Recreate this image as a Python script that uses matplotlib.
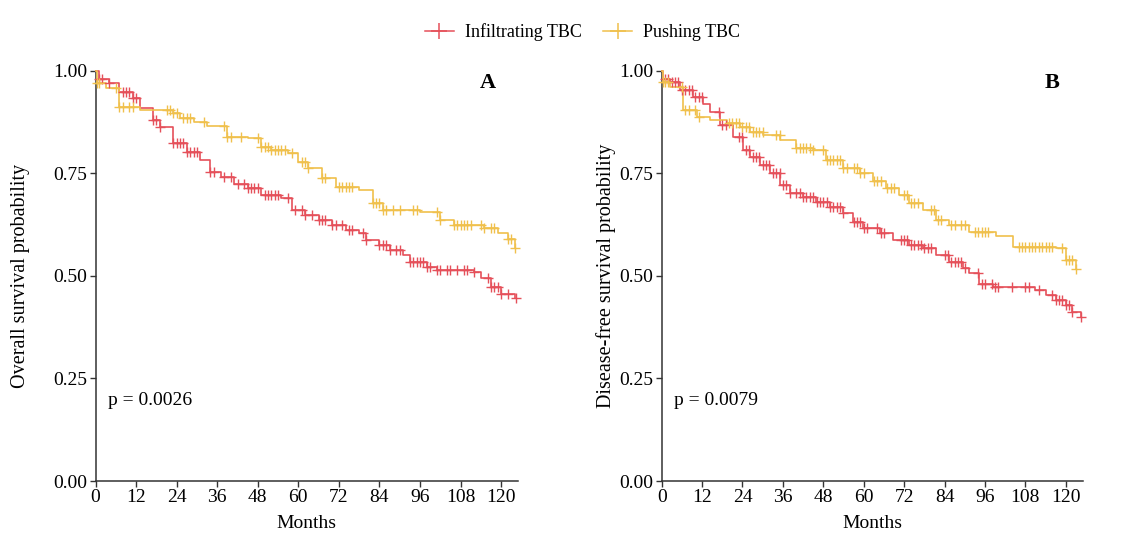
import numpy as np
import matplotlib
matplotlib.use('Agg')
import matplotlib.pyplot as plt
from matplotlib.lines import Line2D

plt.rcParams['font.family'] = ['Liberation Serif', 'DejaVu Serif']

red = '#E5505A'
yellow = '#F0C04C'

# panel A - overall survival, step knots (months, survival)
a_inf_t = [0, 1, 4, 7, 11, 13, 17, 19, 23, 27, 31, 34, 37, 41, 45, 49, 55, 58, 62, 66, 70, 74, 78, 80, 84, 87, 91, 93, 98, 101, 112, 114, 117, 120, 124]
a_inf_s = [1.0, 0.981, 0.969, 0.949, 0.933, 0.908, 0.88, 0.864, 0.823, 0.803, 0.782, 0.754, 0.742, 0.725, 0.713, 0.697, 0.689, 0.66, 0.648, 0.636, 0.624, 0.612, 0.604, 0.587, 0.575, 0.563, 0.551, 0.535, 0.522, 0.514, 0.51, 0.494, 0.474, 0.457, 0.445]
a_push_t = [0, 0.5, 3, 7, 13, 23, 25, 29, 33, 39, 45, 49, 52, 57, 60, 63, 67, 71, 78, 82, 85, 96, 102, 106, 115, 119, 122, 124]
a_push_s = [1.0, 0.969, 0.957, 0.912, 0.904, 0.896, 0.884, 0.876, 0.865, 0.839, 0.835, 0.815, 0.807, 0.799, 0.778, 0.762, 0.738, 0.717, 0.709, 0.677, 0.66, 0.656, 0.636, 0.624, 0.616, 0.604, 0.591, 0.567]
a_inf_cens = [1, 2, 4, 8, 9, 10, 11, 12, 17, 18, 19, 23, 24, 25, 26, 27, 28, 29, 30, 34, 35, 38, 40, 42, 44, 45, 46, 47, 48, 50, 51, 52, 53, 54,
              57, 59, 61, 62, 64, 66, 67, 68, 70, 71, 73, 75, 76, 79, 80, 84, 85, 86, 87, 89, 90, 93, 94, 95, 96, 97, 98, 99, 101, 102, 104,
              105, 107, 109, 110, 112, 116, 117, 118, 119, 120, 122, 124.5]
a_push_cens = [0.5, 1, 6, 7, 8, 10, 11, 21, 22, 23, 24, 26, 27, 28, 32, 38, 39, 40, 43, 48, 49, 50, 51, 52, 53, 54, 55, 56, 58, 61, 62, 63,
               67, 68, 72, 73, 74, 75, 76, 82, 83, 84, 85, 86, 88, 90, 94, 95, 101, 102, 106, 107, 108, 109, 110, 111, 114, 115, 117, 118,
               122, 123, 124]

# panel B - disease-free survival
b_inf_t = [0, 0.5, 2.5, 5.4, 9.4, 12.3, 14.3, 17.3, 21.2, 24.2, 26.2, 29.1, 32.1, 35.1, 38, 42, 45.9, 49.9, 53.8, 56.8, 59.8, 64.7, 68.6, 73.6,
           77.5, 81.5, 85.4, 89.4, 91.4, 94.3, 98.3, 111, 114, 117, 120, 122, 124.5]
b_inf_s = [1.0, 0.981, 0.973, 0.953, 0.937, 0.92, 0.9, 0.868, 0.839, 0.807, 0.79, 0.77, 0.75, 0.721, 0.701, 0.693, 0.681, 0.669, 0.652, 0.632,
           0.616, 0.604, 0.587, 0.575, 0.567, 0.551, 0.535, 0.518, 0.506, 0.48, 0.472, 0.465, 0.453, 0.441, 0.429, 0.413, 0.4]
b_push_t = [0, 0.5, 2.5, 6.4, 10.4, 14.3, 19.3, 23.2, 26.2, 30.1, 35.1, 40, 45, 48.9, 53.8, 58.8, 62.7, 66.7, 70.6, 73.6, 77.5, 81.5, 85.4,
            91.4, 99.3, 104.2, 117, 120, 123]
b_push_s = [1.0, 0.973, 0.961, 0.904, 0.888, 0.88, 0.872, 0.864, 0.851, 0.843, 0.831, 0.811, 0.807, 0.782, 0.762, 0.75, 0.73, 0.713, 0.697,
            0.677, 0.66, 0.636, 0.624, 0.608, 0.596, 0.571, 0.567, 0.539, 0.516]
b_inf_cens = [1, 2, 3, 4, 5, 6, 7, 8, 9, 10, 11, 12, 17, 18, 19, 23, 24, 25, 26, 27, 28, 29, 30, 31, 32, 33, 34, 35, 36, 37, 38, 40, 41, 42,
              43, 44, 45, 46, 47, 48, 49, 50, 51, 52, 53, 54, 57, 58, 59, 60, 61, 64, 65, 66, 71, 72, 73, 74, 75, 76, 77, 78, 79, 80, 84, 85,
              86, 87, 88, 89, 90, 94, 95, 96, 98, 99, 100, 104, 108, 109, 112, 116, 117, 118, 119, 120, 121, 122, 124.5]
b_push_cens = [0.5, 1, 2, 6, 7, 8, 10, 11, 20, 21, 22, 23, 24, 25, 26, 27, 28, 29, 30, 34, 35, 40, 41, 42, 43, 44, 45, 48, 49, 50, 51, 52,
               53, 54, 55, 57, 58, 59, 60, 63, 64, 65, 67, 68, 69, 72, 73, 74, 75, 76, 80, 81, 82, 83, 86, 87, 89, 90, 93, 94, 95, 96, 97,
               106, 107, 108, 109, 110, 111, 112, 113, 114, 115, 116, 119, 120, 121, 122, 123]

labels = ['Infiltrating TBC', 'Pushing TBC']
xticks = [0, 12, 24, 36, 48, 60, 72, 84, 96, 108, 120]
yticks = [0.0, 0.25, 0.5, 0.75, 1.0]


def km(ax, t, s, cens, color):
    t = np.array(t)
    s = np.array(s)
    ax.step(t, s, where='post', color=color, lw=1.2, clip_on=False, zorder=3)
    idx = np.searchsorted(t, cens, side='right') - 1
    ax.plot(cens, s[idx], ls='none', marker='+', ms=7, mew=1.0, color=color, clip_on=False, zorder=4)


fig = plt.figure(figsize=(11.31, 5.39), dpi=100)
axA = fig.add_axes([0.0845, 0.1076, 0.3735, 0.7612])
axB = fig.add_axes([0.585, 0.1076, 0.3722, 0.7612])

km(axA, a_inf_t, a_inf_s, a_inf_cens, red)
km(axA, a_push_t, a_push_s, a_push_cens, yellow)
km(axB, b_inf_t, b_inf_s, b_inf_cens, red)
km(axB, b_push_t, b_push_s, b_push_cens, yellow)

for ax, ylab, letter, p, lx in [(axA, 'Overall survival probability', 'A', 'p = 0.0026', -0.155),
                                (axB, 'Disease-free survival probability', 'B', 'p = 0.0079', -0.108)]:
    ax.set_xlim(0, 125)
    ax.set_ylim(0, 1)
    ax.set_xticks(xticks)
    ax.set_yticks(yticks)
    ax.set_yticklabels(['%.2f' % v for v in yticks])
    for side in ['top', 'right']:
        ax.spines[side].set_visible(False)
    for side in ['left', 'bottom']:
        ax.spines[side].set_color('#333333')
        ax.spines[side].set_linewidth(1.1)
    ax.tick_params(direction='out', length=4, width=1, colors='#333333', labelsize=14, labelcolor='black', pad=2)
    ax.set_xlabel('Months', fontsize=14, labelpad=6)
    ax.set_ylabel(ylab, fontsize=14.5)
    ax.yaxis.set_label_coords(lx, 0.5)
    ax.text(116, 0.97, letter, fontsize=16, fontweight='bold', ha='center', va='center')
    ax.text(3.7, 0.195, p, fontsize=14, ha='left', va='center')

handles = [Line2D([], [], color=red, marker='+', ms=12, mew=1.1, lw=1.1),
           Line2D([], [], color=yellow, marker='+', ms=12, mew=1.1, lw=1.1)]
fig.legend(handles, labels, loc='center', bbox_to_anchor=(0.515, 0.94), ncol=2, frameon=False,
           fontsize=13, handlelength=1.6, columnspacing=1.2, handletextpad=0.6)

fig.savefig('out.png', dpi=100)
